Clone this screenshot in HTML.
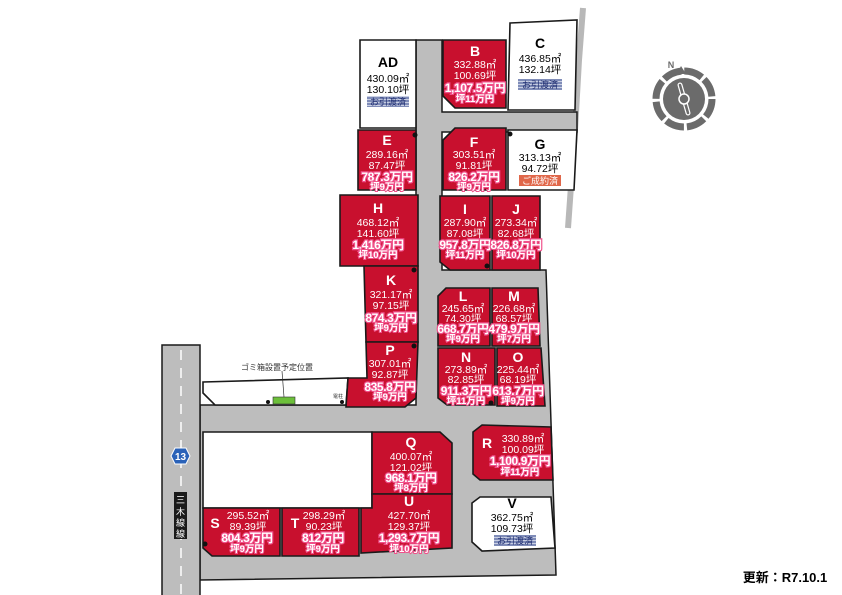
<!DOCTYPE html>
<html><head><meta charset="utf-8"><style>
html,body{margin:0;padding:0;background:#fff}
svg{display:block}
text{font-family:"Liberation Sans","Noto Sans CJK JP",sans-serif;text-anchor:middle}
.l{font-size:14px;font-weight:bold;fill:#fff}
.lw{font-size:14px;font-weight:bold;fill:#000}
.a{font-size:10.5px;fill:#fff}
.aw{font-size:10.5px;fill:#000}
.p{font-size:12px;font-weight:bold;fill:#fff;stroke:#f0508a;stroke-width:2.4px;paint-order:stroke;letter-spacing:-0.4px}
.t{font-size:9.5px;font-weight:bold;fill:#fff;stroke:#f0508a;stroke-width:2px;paint-order:stroke}
.r{fill:#c8102e;stroke:#1a1a1a;stroke-width:1.6}
.w{fill:#fff;stroke:#1a1a1a;stroke-width:1.6}
.b{font-size:9px;fill:#1c2a6e}
</style></head><body>
<svg width="842" height="595" viewBox="0 0 842 595" xmlns="http://www.w3.org/2000/svg">
<defs>
<pattern id="st" width="3" height="3" patternUnits="userSpaceOnUse"><rect width="3" height="3" fill="#7f8cb8"/><rect width="3" height="1" fill="#c9cfe3"/></pattern>
</defs>
<path d="M583,8 L579,60 L575,130 L568,228" stroke="#b8b8b8" stroke-width="6" fill="none"/>
<polygon points="416,40 442,40 442,112 577,112 577,132 442,132 442,270 546,270 556,575 200,580 200,405 416,405" fill="#bdbdbd" stroke="#1a1a1a" stroke-width="1.5"/>
<rect x="162" y="345" width="38" height="252" fill="#bdbdbd" stroke="#1a1a1a" stroke-width="1.5"/>
<line x1="181" y1="350" x2="181" y2="595" stroke="#fff" stroke-width="1.5" stroke-dasharray="10,8"/>
<polygon class="w" points="203,382 348,378 346,405 215,405 203,393"/>
<polygon class="w" points="203,432 372,432 372,508 203,508"/>
<polygon class="w" points="360,40 416,40 416,128 360,128"/>
<polygon class="r" points="443,40 506,40 506,108 455,108 443,96"/>
<polygon class="w" points="510,23 577,20 575,110 508,110"/>
<polygon class="r" points="358,130 416,130 416,190 358,190"/>
<polygon class="r" points="455,128 506,128 506,190 443,190 443,140"/>
<polygon class="w" points="508,130 577,130 574,190 508,190"/>
<polygon class="r" points="340,195 418,195 418,266 340,266"/>
<polygon class="r" points="364,266 418,266 418,342 366,342"/>
<polygon class="r" points="366,342 418,342 416,398 405,407 346,407 348,378 367,378"/>
<polygon class="r" points="440,196 490,196 490,270 450,270 440,262"/>
<polygon class="r" points="492,196 540,196 540,270 492,270"/>
<polygon class="r" points="446,288 490,288 490,346 438,346 438,296"/>
<polygon class="r" points="492,288 538,288 540,346 492,346"/>
<polygon class="r" points="438,348 495,348 495,405 447,405 438,398"/>
<polygon class="r" points="497,348 541,348 545,406 497,406"/>
<polygon class="r" points="372,432 440,432 452,443 452,494 372,494"/>
<polygon class="r" points="482,425 551,427 553,480 480,480 473,474 473,432"/>
<polygon class="w" points="480,497 551,497 555,548 482,551 472,542 472,503"/>
<polygon class="r" points="372,494 452,494 452,548 361,553 361,508 372,508"/>
<polygon class="r" points="203,508 280,508 280,556 212,556 203,548"/>
<polygon class="r" points="282,508 359,508 359,556 282,556"/>
<g fill="#111"><circle cx="415" cy="135" r="2.5"/><circle cx="510" cy="134" r="2.5"/><circle cx="487" cy="266" r="2.5"/><circle cx="414" cy="270" r="2.5"/><circle cx="414" cy="346" r="2.5"/><circle cx="491" cy="403" r="2.5"/><circle cx="205" cy="544" r="2.5"/><circle cx="268" cy="402" r="2"/><circle cx="342" cy="402" r="2"/></g>
<rect x="273" y="397" width="22" height="7" fill="#6cbf3a" stroke="#333" stroke-width="0.6"/>
<line x1="282" y1="371" x2="284" y2="397" stroke="#333" stroke-width="0.7"/>
<text x="277" y="370" style="font-size:8px;fill:#333">ゴミ箱設置予定位置</text>
<text x="338" y="398" style="font-size:5px;fill:#333">電柱</text>
<text x="388" y="67" class="lw">AD</text><text x="388" y="82" class="aw">430.09㎡</text><text x="388" y="93" class="aw">130.10坪</text>
<rect x="367" y="96" width="42" height="11" fill="url(#st)"/><text x="388" y="105" class="b">お引渡済</text>
<text x="475" y="56" class="l">B</text><text x="475" y="68" class="a">332.88㎡</text><text x="475" y="79" class="a">100.69坪</text><text x="475" y="92" class="p">1,107.5万円</text><text x="475" y="102" class="t">坪11万円</text>
<text x="540" y="48" class="lw">C</text><text x="540" y="62" class="aw">436.85㎡</text><text x="540" y="73" class="aw">132.14坪</text>
<rect x="518" y="79" width="44" height="11" fill="url(#st)"/><text x="540" y="88" class="b">お引渡済</text>
<text x="387" y="145" class="l">E</text><text x="387" y="158" class="a">289.16㎡</text><text x="387" y="169" class="a">87.47坪</text><text x="387" y="181" class="p">787.3万円</text><text x="387" y="190" class="t">坪9万円</text>
<text x="474" y="147" class="l">F</text><text x="474" y="158" class="a">303.51㎡</text><text x="474" y="169" class="a">91.81坪</text><text x="474" y="181" class="p">826.2万円</text><text x="474" y="190" class="t">坪9万円</text>
<text x="540" y="149" class="lw">G</text><text x="540" y="161" class="aw">313.13㎡</text><text x="540" y="172" class="aw">94.72坪</text>
<rect x="519" y="175" width="42" height="11" fill="#e0674a"/><text x="540" y="184" style="font-size:9px;fill:#fff">ご成約済</text>
<text x="378" y="213" class="l">H</text><text x="378" y="226" class="a">468.12㎡</text><text x="378" y="237" class="a">141.60坪</text><text x="378" y="249" class="p">1,416万円</text><text x="378" y="258" class="t">坪10万円</text>
<text x="465" y="214" class="l">I</text><text x="465" y="226" class="a">287.90㎡</text><text x="465" y="237" class="a">87.08坪</text><text x="465" y="249" class="p">957.8万円</text><text x="465" y="258" class="t">坪11万円</text>
<text x="516" y="214" class="l">J</text><text x="516" y="226" class="a">273.34㎡</text><text x="516" y="237" class="a">82.68坪</text><text x="516" y="249" class="p">826.8万円</text><text x="516" y="258" class="t">坪10万円</text>
<text x="391" y="285" class="l">K</text><text x="391" y="298" class="a">321.17㎡</text><text x="391" y="309" class="a">97.15坪</text><text x="391" y="322" class="p">874.3万円</text><text x="391" y="331" class="t">坪9万円</text>
<text x="463" y="301" class="l">L</text><text x="463" y="312" class="a">245.65㎡</text><text x="463" y="322" class="a">74.30坪</text><text x="463" y="333" class="p">668.7万円</text><text x="463" y="342" class="t">坪9万円</text>
<text x="514" y="301" class="l">M</text><text x="514" y="312" class="a">226.68㎡</text><text x="514" y="322" class="a">68.57坪</text><text x="514" y="333" class="p">479.9万円</text><text x="514" y="342" class="t">坪7万円</text>
<text x="390" y="355" class="l">P</text><text x="390" y="367" class="a">307.01㎡</text><text x="390" y="378" class="a">92.87坪</text><text x="390" y="391" class="p">835.8万円</text><text x="390" y="400" class="t">坪9万円</text>
<text x="466" y="362" class="l">N</text><text x="466" y="373" class="a">273.89㎡</text><text x="466" y="383" class="a">82.85坪</text><text x="466" y="395" class="p">911.3万円</text><text x="466" y="404" class="t">坪11万円</text>
<text x="518" y="362" class="l">O</text><text x="518" y="373" class="a">225.44㎡</text><text x="518" y="383" class="a">68.19坪</text><text x="518" y="395" class="p">613.7万円</text><text x="518" y="404" class="t">坪9万円</text>
<text x="411" y="447" class="l">Q</text><text x="411" y="460" class="a">400.07㎡</text><text x="411" y="471" class="a">121.02坪</text><text x="411" y="482" class="p">968.1万円</text><text x="411" y="491" class="t">坪8万円</text>
<text x="487" y="448" class="l">R</text><text x="523" y="442" class="a">330.89㎡</text><text x="523" y="453" class="a">100.09坪</text><text x="520" y="465" class="p">1,100.9万円</text><text x="520" y="475" class="t">坪11万円</text>
<text x="409" y="506" class="l">U</text><text x="409" y="519" class="a">427.70㎡</text><text x="409" y="530" class="a">129.37坪</text><text x="409" y="542" class="p">1,293.7万円</text><text x="409" y="552" class="t">坪10万円</text>
<text x="215" y="528" class="l">S</text><text x="248" y="519" class="a">295.52㎡</text><text x="248" y="530" class="a">89.39坪</text><text x="247" y="542" class="p">804.3万円</text><text x="247" y="552" class="t">坪9万円</text>
<text x="295" y="528" class="l">T</text><text x="324" y="519" class="a">298.29㎡</text><text x="324" y="530" class="a">90.23坪</text><text x="323" y="542" class="p">812万円</text><text x="323" y="552" class="t">坪9万円</text>
<text x="512" y="508" class="lw">V</text><text x="512" y="521" class="aw">362.75㎡</text><text x="512" y="532" class="aw">109.73坪</text>
<rect x="494" y="535" width="42" height="11" fill="url(#st)"/><text x="515" y="544" class="b">お引渡済</text>
<polygon points="171,456 175,448 186,448 190,456 186,464 175,464" fill="#2a62b8" stroke="#fff" stroke-width="1"/>
<text x="180.5" y="460" style="font-size:10px;font-weight:bold;fill:#fff">13</text>
<rect x="174" y="492" width="13" height="47" fill="#1a1a1a"/>
<text x="180.5" y="503" style="font-size:9px;fill:#fff">三</text><text x="180.5" y="515" style="font-size:9px;fill:#fff">木</text><text x="180.5" y="526" style="font-size:9px;fill:#fff">線</text><text x="180.5" y="537" style="font-size:9px;fill:#fff">線</text>
<g transform="translate(684,99)">
<circle r="28" fill="none" stroke="#6b6b6b" stroke-width="7" stroke-dasharray="19,3"/>
<circle r="21" fill="#6b6b6b"/>
<circle r="23" fill="none" stroke="#fff" stroke-width="1.2"/>
<polygon points="-7,-25 -3,-33 2,-25" fill="#6b6b6b"/>
<line x1="-4" y1="-14" x2="4" y2="14" stroke="#fff" stroke-width="5" stroke-linecap="round"/>
<line x1="-4" y1="-14" x2="4" y2="14" stroke="#6b6b6b" stroke-width="2.5" stroke-linecap="round"/>
<circle r="5" fill="#6b6b6b" stroke="#fff" stroke-width="1.5"/>
<text x="-13" y="-31" style="font-size:9px;font-weight:bold;fill:#6b6b6b">N</text>
</g>
<text x="785" y="582" style="font-size:13px;font-weight:bold;fill:#000">更新：R7.10.1</text>
</svg>
</body></html>
